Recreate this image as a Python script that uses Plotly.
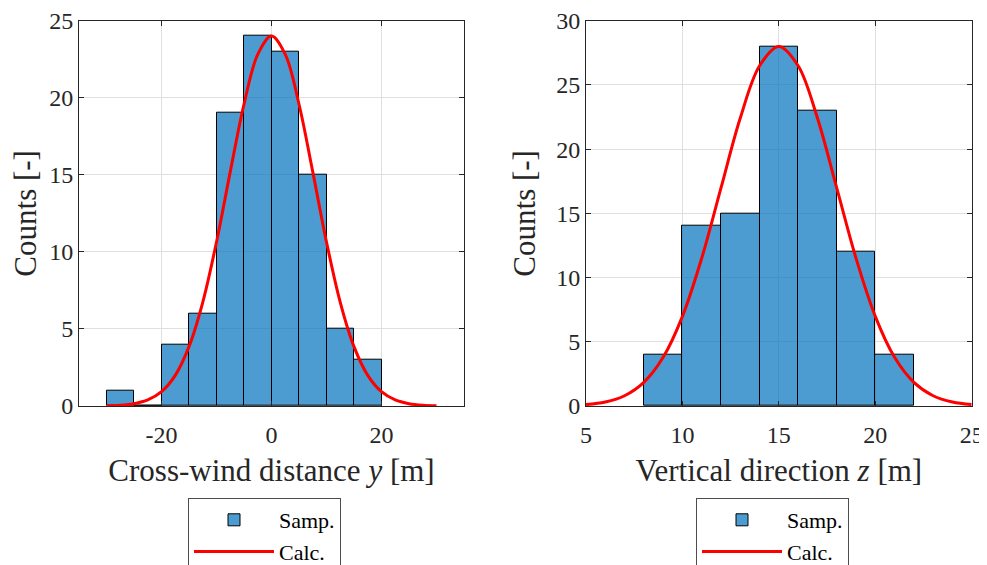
import plotly.graph_objects as go

# ---------------- data ----------------
# Left: cross-wind distance y
y_bin_edges = [-30, -25, -20, -15, -10, -5, 0, 5, 10, 15, 20]
y_counts = [1, 0, 4, 6, 19, 24, 23, 15, 5, 3]
y_calc_x = [-30, -27.5, -25, -22.5, -20, -17.5, -15, -12.5, -10, -7.5, -5, -2.5, 0,
            2.5, 5, 7.5, 10, 12.5, 15, 17.5, 20, 22.5, 25, 27.5, 30]
y_calc_v = [0.02, 0.05, 0.15, 0.39, 0.93, 1.99, 3.85, 6.73, 10.64, 15.19, 19.58, 22.81, 24.0,
            22.81, 19.58, 15.19, 10.64, 6.73, 3.85, 1.99, 0.93, 0.39, 0.15, 0.05, 0.02]

# Right: vertical direction z
z_bin_edges = [8, 10, 12, 14, 16, 18, 20, 22]
z_counts = [4, 14, 15, 28, 23, 12, 4]
z_calc_x = [5, 6, 7, 8, 9, 10, 11, 12, 13, 14, 15, 16, 17, 18, 19, 20, 21, 22, 23, 24, 25]
z_calc_v = [0.11, 0.31, 0.80, 1.84, 3.79, 6.98, 11.51, 16.98, 22.42, 26.49, 28.0,
            26.49, 22.42, 16.98, 11.51, 6.98, 3.79, 1.84, 0.80, 0.31, 0.11]

y_xticks = [-20, 0, 20]
y_xticklabels = ["-20", "0", "20"]
y_yticks = [0, 5, 10, 15, 20, 25]
z_xticks = [5, 10, 15, 20, 25]
z_xticklabels = ["5", "10", "15", "20", "25"]
z_yticks = [0, 5, 10, 15, 20, 25, 30]

legend_labels = ["Samp.", "Calc."]

# ---------------- figure ----------------
FONT = "Liberation Serif"
TXT = "#262626"
BAR_FILL = "rgba(0,114,189,0.7)"

# the page body has an 8px margin; the figure is sized so it fits the 987x565 window
OFF = 8
W, H = 987 - OFF, 565 - OFF


def px_x(p):
    return (p - OFF) / W


def px_y(p):
    return 1 - (p - OFF) / H


def centers(edges):
    return [(a + b) / 2 for a, b in zip(edges[:-1], edges[1:])]


def widths(edges):
    return [b - a for a, b in zip(edges[:-1], edges[1:])]


fig = go.Figure()

fig.add_trace(go.Bar(
    x=centers(y_bin_edges), y=y_counts, width=widths(y_bin_edges),
    marker=dict(color=BAR_FILL, line=dict(color="#000000", width=1)),
    name=legend_labels[0], xaxis="x", yaxis="y", legend="legend"))
fig.add_trace(go.Scatter(
    x=y_calc_x, y=y_calc_v, mode="lines", line=dict(color="#ff0000", width=3, shape="spline"),
    name=legend_labels[1], xaxis="x", yaxis="y", legend="legend"))

fig.add_trace(go.Bar(
    x=centers(z_bin_edges), y=z_counts, width=widths(z_bin_edges),
    marker=dict(color=BAR_FILL, line=dict(color="#000000", width=1)),
    name=legend_labels[0], xaxis="x2", yaxis="y2", legend="legend2"))
fig.add_trace(go.Scatter(
    x=z_calc_x, y=z_calc_v, mode="lines", line=dict(color="#ff0000", width=3, shape="spline"),
    name=legend_labels[1], xaxis="x2", yaxis="y2", legend="legend2"))

ydom = [px_y(406), px_y(20.7)]

axis_common = dict(
    showline=True, linecolor=TXT, linewidth=1, mirror="ticks",
    ticks="inside", ticklen=5, tickcolor=TXT, tickwidth=1,
    showgrid=True, gridcolor="#dfdfdf", gridwidth=1, zeroline=False,
    tickfont=dict(family=FONT, size=24, color=TXT), automargin=False,
    ticklabeloverflow="allow",
)
title_font = dict(size=31, family=FONT, color=TXT)
legend_common = dict(
    xanchor="left", yanchor="top", y=px_y(498),
    bgcolor="white", bordercolor="#4d4d4d", borderwidth=1,
    font=dict(family=FONT, size=22, color="#000000"), itemwidth=80,
    tracegroupgap=0, traceorder="normal",
)

fig.update_layout(
    width=W, height=H,
    margin=dict(l=0, r=0, t=0, b=0, autoexpand=False),
    paper_bgcolor="white", plot_bgcolor="white",
    barmode="overlay", bargap=0,
    font=dict(family=FONT, color=TXT),
    xaxis=dict(domain=[px_x(79), px_x(464)], range=[-35, 35], anchor="y",
               tickmode="array", tickvals=y_xticks, ticktext=y_xticklabels,
               ticklabelstandoff=7,
               title=dict(text="Cross-wind distance <i>y</i> [m]", font=title_font, standoff=12),
               **axis_common),
    yaxis=dict(domain=ydom, range=[0, 25], anchor="x",
               tickmode="array", tickvals=y_yticks, ticklabelstandoff=0,
               title=dict(text="Counts [-]", font=title_font, standoff=11),
               **axis_common),
    xaxis2=dict(domain=[px_x(586), px_x(971.7)], range=[5, 25], anchor="y2",
                tickmode="array", tickvals=z_xticks, ticktext=z_xticklabels,
                ticklabelstandoff=7,
                title=dict(text="Vertical direction <i>z</i> [m]", font=title_font, standoff=12),
                **axis_common),
    yaxis2=dict(domain=ydom, range=[0, 30], anchor="x2",
                tickmode="array", tickvals=z_yticks, ticklabelstandoff=0,
                title=dict(text="Counts [-]", font=title_font, standoff=11),
                **axis_common),
    legend=dict(x=px_x(188), **legend_common),
    legend2=dict(x=px_x(696), **legend_common),
)

fig.write_html("out.html")
